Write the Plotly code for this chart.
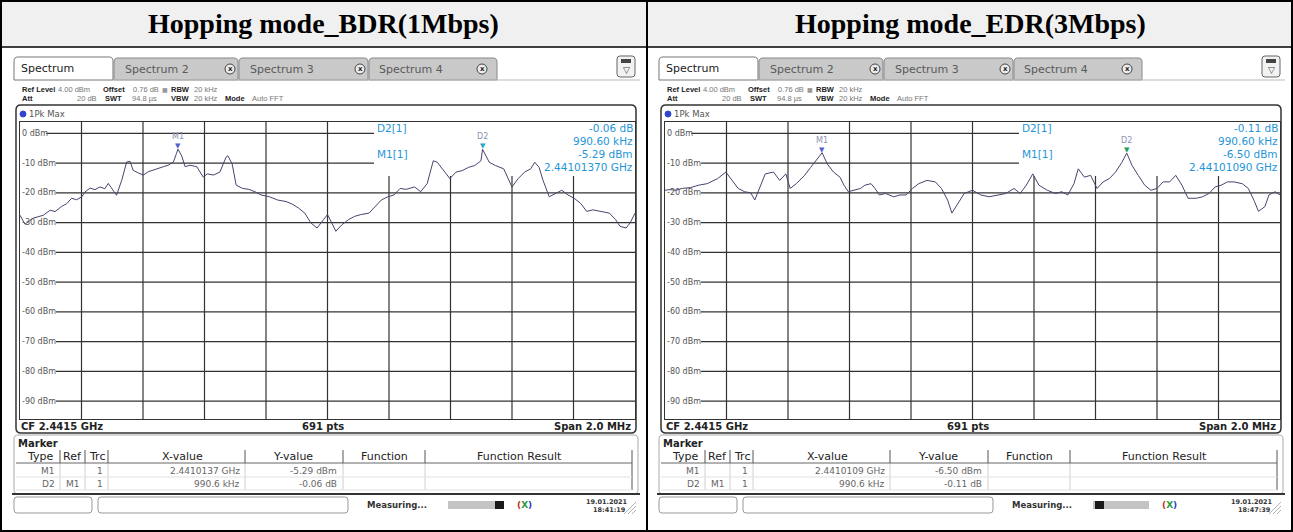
import plotly.graph_objects as go

W, H = 1293, 532

# ---------------- data ----------------
panel_titles = ["Hopping mode_BDR(1Mbps)", "Hopping mode_EDR(3Mbps)"]

# trace 1 : BDR, frequency offset from 2.4405 GHz (kHz) and level (dBm)
bdr_offset_khz = [0, 16, 43, 76, 98, 114, 136, 152, 168, 184,
                  201, 211, 228, 244, 260, 276, 287, 298, 314, 331,
                  347, 358, 368, 385, 401, 417, 434, 450, 466, 482,
                  499, 509, 513.7, 526, 537, 553, 575, 596, 609, 629,
                  650, 670, 676, 690, 703, 724, 744, 764, 784, 811,
                  838, 865, 886, 906, 926, 946, 966, 987, 1000, 1014,
                  1027, 1047, 1068, 1088, 1108, 1135, 1155, 1175, 1196, 1216,
                  1236, 1256, 1283, 1303, 1324, 1344, 1357, 1378, 1398, 1418,
                  1438, 1459, 1479, 1499, 1504.3, 1526, 1546, 1573, 1600, 1620,
                  1641, 1661, 1674, 1688, 1701, 1721, 1742, 1762, 1782, 1802,
                  1823, 1843, 1863, 1890, 1917, 1937, 1951, 1971, 1984, 2000]
bdr_level_dbm = [-27.5, -30.5, -28.5, -27.5, -25.8, -26.3, -24.5, -23.6, -21.8, -22.3,
                 -21.3, -19.7, -18.4, -18.9, -18.0, -18.6, -16.8, -18.5, -20.8, -15.7,
                 -9.6, -9.4, -12.4, -13.3, -14.0, -12.9, -12.4, -11.8, -11.2, -10.7,
                 -9.6, -6.7, -5.29, -7.6, -11.2, -10.7, -11.2, -14.7, -13.6, -14.0,
                 -13.0, -8.0, -7.5, -10.3, -17.4, -18.5, -18.8, -19.6, -20.7, -21.3,
                 -22.4, -22.9, -23.8, -25.1, -26.8, -30.1, -31.8, -29.0, -27.3, -30.1,
                 -32.9, -30.7, -29.0, -27.9, -27.3, -26.8, -24.6, -22.4, -21.3, -20.7,
                 -18.5, -18.8, -18.0, -19.6, -16.9, -9.2, -9.7, -12.5, -15.2, -13.0,
                 -12.5, -11.4, -10.8, -9.2, -5.35, -9.7, -10.8, -11.9, -18.0, -15.2,
                 -13.0, -11.9, -9.7, -11.4, -15.8, -21.3, -20.2, -19.1, -20.7, -21.8,
                 -23.5, -26.2, -25.7, -26.3, -26.8, -29.0, -31.2, -31.8, -30.1, -26.8]

# trace 2 : EDR
edr_offset_khz = [0, 16, 36, 56, 83, 110, 137, 171, 198, 218,
                  238, 259, 279, 292, 326, 353, 373, 393, 407, 427,
                  454, 474, 495, 510.9, 528, 548, 569, 582, 596, 616,
                  636, 650, 670, 683, 697, 717, 744, 764, 784, 805,
                  825, 852, 879, 899, 919, 933, 953, 973, 1000, 1027,
                  1054, 1081, 1108, 1135, 1155, 1175, 1196, 1216, 1243, 1270,
                  1290, 1310, 1330, 1344, 1364, 1384, 1405, 1425, 1445, 1465,
                  1486, 1501.5, 1519, 1539, 1560, 1580, 1600, 1620, 1641, 1661,
                  1681, 1701, 1728, 1748, 1769, 1789, 1809, 1829, 1850, 1877,
                  1897, 1917, 1930, 1951, 1964, 1984, 2000]
edr_level_dbm = [-19.1, -18.9, -19.1, -18.5, -18.2, -17.4, -16.9, -15.2, -13.0, -15.8,
                 -18.5, -19.6, -20.0, -22.4, -13.6, -13.0, -15.8, -13.6, -18.5, -16.9,
                 -14.1, -11.4, -8.6, -6.5, -10.3, -13.0, -14.7, -17.4, -19.6, -19.1,
                 -18.5, -17.4, -16.9, -18.5, -20.7, -20.2, -21.3, -20.7, -20.7, -18.5,
                 -16.9, -15.8, -16.3, -18.5, -22.4, -26.8, -23.5, -20.2, -19.1, -20.7,
                 -21.3, -20.7, -20.2, -18.5, -20.2, -17.4, -13.6, -17.4, -19.1, -20.2,
                 -19.6, -20.7, -16.9, -11.9, -14.7, -14.1, -18.5, -16.3, -15.2, -13.0,
                 -9.7, -6.61, -10.8, -14.1, -17.4, -19.1, -18.5, -16.3, -16.3, -14.1,
                 -17.4, -21.8, -21.8, -21.3, -20.2, -18.0, -17.4, -16.3, -16.3, -16.9,
                 -18.5, -22.9, -26.2, -24.6, -20.7, -19.6, -20.7]

y_tick_vals = [0, -10, -20, -30, -40, -50, -60, -70, -80, -90]
y_tick_labels = ["0 dBm", "-10 dBm", "-20 dBm", "-30 dBm", "-40 dBm",
                 "-50 dBm", "-60 dBm", "-70 dBm", "-80 dBm", "-90 dBm"]
x_grid_khz = [200, 400, 600, 800, 1000, 1200, 1400, 1600, 1800]
START_GHZ = 2.4405
SPAN_KHZ = 2000
REF_DBM, BOTTOM_DBM = 4, -96
m1_freq_ghz = [2.4410137, 2.4410109]
m1_level_dbm = [-5.29, -6.50]
d2_delta_khz = [990.6, 990.6]
d2_delta_db = [-0.06, -0.11]
dates = ["19.01.2021", "19.01.2021"]
times = ["18:41:19", "18:47:39"]

# ---------------- helpers ----------------
FONT = "DejaVu Sans"
NARROW = "Liberation Sans"
shapes, annos = [], []


def X(px):
    return px / W


def Y(py):
    return 1 - py / H


def P(x, y):
    return f"{X(x):.5f},{Y(y):.5f}"


def rrect(x0, y0, x1, y1, r=4, line="#888", lw=1, fill=None, top_only=False, layer="above"):
    if top_only:
        path = (f"M{P(x0, y1)} L{P(x0, y0 + r)} Q{P(x0, y0)} {P(x0 + r, y0)} "
                f"L{P(x1 - r, y0)} Q{P(x1, y0)} {P(x1, y0 + r)} L{P(x1, y1)} Z")
    else:
        path = (f"M{P(x0 + r, y0)} L{P(x1 - r, y0)} Q{P(x1, y0)} {P(x1, y0 + r)} "
                f"L{P(x1, y1 - r)} Q{P(x1, y1)} {P(x1 - r, y1)} L{P(x0 + r, y1)} "
                f"Q{P(x0, y1)} {P(x0, y1 - r)} L{P(x0, y0 + r)} Q{P(x0, y0)} {P(x0 + r, y0)} Z")
    shapes.append(dict(type="path", path=path, xref="paper", yref="paper",
                       line=dict(color=line, width=lw),
                       fillcolor=fill or "rgba(0,0,0,0)", layer=layer))


def rect(x0, y0, x1, y1, fill=None, line=None, lw=0, layer="above"):
    shapes.append(dict(type="rect", xref="paper", yref="paper",
                       x0=X(x0), x1=X(x1), y0=Y(y1), y1=Y(y0),
                       fillcolor=fill or "rgba(0,0,0,0)",
                       line=dict(color=line or "rgba(0,0,0,0)", width=lw), layer=layer))


def seg(x0, y0, x1, y1, color="#444", lw=1, layer="above"):
    shapes.append(dict(type="line", xref="paper", yref="paper",
                       x0=X(x0), x1=X(x1), y0=Y(y0), y1=Y(y1),
                       line=dict(color=color, width=lw), layer=layer))


def hline(x0, x1, y, color="#444", lw=1):
    seg(x0, y, x1, y, color, lw)


def vline(x, y0, y1, color="#444", lw=1):
    seg(x, y0, x, y1, color, lw)


def text(x, y, s, size=8, color="#333", anchor="left", bold=False, family=None, bg=None):
    annos.append(dict(x=X(x), y=Y(y), xref="paper", yref="paper",
                      text=f"<b>{s}</b>" if bold else s, showarrow=False,
                      xanchor=anchor, yanchor="middle",
                      font=dict(size=size, color=color, family=family or FONT),
                      bgcolor=bg, borderpad=0))


def circle(cx, cy, r, fill, line, lw=1):
    shapes.append(dict(type="circle", xref="paper", yref="paper",
                       x0=X(cx - r), x1=X(cx + r), y0=Y(cy + r), y1=Y(cy - r),
                       fillcolor=fill, line=dict(color=line, width=lw), layer="above"))


# plot-area geometry (pixels, left panel)
GX0, GX1 = 20, 635
GY0, GY1 = 121.5, 419
BOX_X0, BOX_Y1 = 374, 176            # marker-info box that hides the grid
box_xfrac = (BOX_X0 - GX0) / (GX1 - GX0)
box_yfrac = 1 - (BOX_Y1 - GY0) / (GY1 - GY0)
LABEL_X = 21                         # y label start (px)
LABEL_CHAR_PX = 4.85                 # approx. width per char of 8px labels

# ---------------- frame / titles ----------------
SEP_Y = 47
rect(2, 2, 1291, SEP_Y, fill="#f0f0f0", layer="below")
hline(0, 1293, SEP_Y, color="#000", lw=1.5)
vline(647, 0, 532, color="#000", lw=2)
rect(1, 1, 1292, 531, line="#000", lw=2)
for i, t in enumerate(panel_titles):
    cx = 323.5 if i == 0 else 970
    text(cx, 23.5, t, size=28, color="#000", anchor="center", bold=True, family="Liberation Serif")

fig = go.Figure()

traces = [(bdr_offset_khz, bdr_level_dbm), (edr_offset_khz, edr_level_dbm)]
d2_colors = ["#2aa6c8", "#16a05a"]
blue = "#1f95d8"

for i in range(2):
    dx = 0 if i == 0 else 645
    xa = "x" if i == 0 else "x2"
    ya = "y" if i == 0 else "y2"

    # tabs
    rrect(dx + 14, 57, dx + 113, 80, r=4, line="#777", fill="#ffffff", top_only=True)
    text(dx + 20, 68.5, "Spectrum", size=11, color="#222")
    tabs = [(114, 238, 124, 230, "Spectrum 2"), (239, 368, 249, 360, "Spectrum 3"),
            (369, 497, 378, 482, "Spectrum 4")]
    for (a, b, tx, cxx, lab) in tabs:
        rrect(dx + a, 58, dx + b, 80, r=4, line="#888", fill="#c9c9c9", top_only=True)
        text(dx + tx, 69, lab, size=11, color="#5a5a5a")
        circle(dx + cxx, 69, 5, "#ececec", "#444")
        text(dx + cxx, 69, "x", size=7, color="#222", anchor="center", bold=True)
    hline(dx + 113, dx + 640, 80, color="#bbb")
    rrect(dx + 617, 56, dx + 635, 77, r=3, line="#666", fill="#f2f2f2")
    rect(dx + 621, 59, dx + 631, 63, fill="#444")
    text(dx + 626, 70, "▽", size=9, color="#444", anchor="center")

    # info rows
    text(dx + 21, 89, "Ref Level", size=7.5, color="#222", bold=True, family=NARROW)
    text(dx + 57, 89, "4.00 dBm", size=7.5, color="#777", family=NARROW)
    text(dx + 102, 89, "Offset", size=7.5, color="#222", bold=True, family=NARROW)
    text(dx + 132, 89, "0.76 dB", size=7.5, color="#777", family=NARROW)
    text(dx + 161, 89, "■", size=6, color="#999")
    text(dx + 170, 89, "RBW", size=7.5, color="#222", bold=True, family=NARROW)
    text(dx + 193, 89, "20 kHz", size=7.5, color="#777", family=NARROW)
    text(dx + 21, 99, "Att", size=7.5, color="#222", bold=True, family=NARROW)
    text(dx + 98, 99, "20 dB", size=7.5, color="#777", anchor="right", family=NARROW)
    text(dx + 104, 99, "SWT", size=7.5, color="#222", bold=True, family=NARROW)
    text(dx + 131, 99, "94.8 µs", size=7.5, color="#777", family=NARROW)
    text(dx + 170, 99, "VBW", size=7.5, color="#222", bold=True, family=NARROW)
    text(dx + 193, 99, "20 kHz", size=7.5, color="#777", family=NARROW)
    text(dx + 224, 99, "Mode", size=7.5, color="#222", bold=True, family=NARROW)
    text(dx + 251, 99, "Auto FFT", size=7.5, color="#777", family=NARROW)

    # plot frame
    rrect(dx + 16, 105, dx + 636, 433, r=5, line="#333", lw=1.5)
    circle(dx + 23, 114, 3, "#3344cc", "#3344cc")
    text(dx + 28, 114, "1Pk Max", size=8.5, color="#555")

    # grid (hidden under the marker-info box; horizontal lines start after their label)
    for v in x_grid_khz:
        top = box_yfrac if v / SPAN_KHZ > box_xfrac else 1
        shapes.append(dict(type="line", xref=xa, yref=f"{ya} domain", x0=v, x1=v, y0=0, y1=top,
                           line=dict(color="#333", width=1.2), layer="below"))
    for v, lab in zip(y_tick_vals, y_tick_labels):
        right = box_xfrac if (REF_DBM - v) / (REF_DBM - BOTTOM_DBM) < 1 - box_yfrac else 1
        left = (LABEL_X + len(lab) * LABEL_CHAR_PX + 1 - GX0) / (GX1 - GX0)
        shapes.append(dict(type="line", xref=f"{xa} domain", yref=ya, x0=left, x1=right, y0=v, y1=v,
                           line=dict(color="#333", width=1.2), layer="below"))

    # trace
    off, lev = traces[i]
    fig.add_trace(go.Scatter(x=off, y=lev, mode="lines", xaxis=xa, yaxis=ya,
                             line=dict(color="#45456e", width=1),
                             hoverinfo="skip", showlegend=False))

    # y labels
    for v, lab in zip(y_tick_vals, y_tick_labels):
        annos.append(dict(x=X(dx + LABEL_X), y=v, xref="paper", yref=ya, text=lab,
                          showarrow=False, xanchor="left", yanchor="middle",
                          font=dict(size=8, color="#555", family=FONT), borderpad=0))

    # markers
    m1_off = (m1_freq_ghz[i] - START_GHZ) * 1e6
    d2_off = m1_off + d2_delta_khz[i]
    d2_lev = m1_level_dbm[i] + d2_delta_db[i]
    for (mx, my, lab, col) in [(m1_off, m1_level_dbm[i], "M1", "#5560d0"),
                               (d2_off, d2_lev, "D2", d2_colors[i])]:
        annos.append(dict(x=mx, y=my, xref=xa, yref=ya, text="▼", showarrow=False,
                          xanchor="center", yanchor="bottom", yshift=-3,
                          font=dict(size=7, color=col, family=FONT)))
        annos.append(dict(x=mx, y=my, xref=xa, yref=ya, text=lab, showarrow=False,
                          xanchor="center", yanchor="bottom", yshift=6,
                          font=dict(size=8, color="#8a92b0", family=FONT)))

    # marker info (blue)
    text(dx + 376, 128, "D2[1]", size=10.5, color=blue)
    text(dx + 376, 154, "M1[1]", size=10.5, color=blue)
    text(dx + 634, 128, f"{d2_delta_db[i]:.2f} dB", size=10.5, color=blue, anchor="right")
    text(dx + 634, 141, f"{d2_delta_khz[i]:.2f} kHz", size=10.5, color=blue, anchor="right")
    text(dx + 634, 154, f"{m1_level_dbm[i]:.2f} dBm", size=10.5, color=blue, anchor="right")
    text(dx + 634, 167, f"{m1_freq_ghz[i]:.8f} GHz", size=10.5, color=blue, anchor="right")

    # bottom row
    text(dx + 20, 426, "CF 2.4415 GHz", size=10, color="#222", bold=True)
    text(dx + 323, 426, "691 pts", size=10, color="#222", anchor="center", bold=True)
    text(dx + 632, 426, "Span 2.0 MHz", size=10, color="#222", anchor="right", bold=True)

    # marker table
    rrect(dx + 14, 435, dx + 638, 494, r=4, line="#aaa")
    text(dx + 17, 443, "Marker", size=10, color="#222", bold=True)
    seps = [60, 85, 108, 245, 343, 425]
    for s in seps:
        vline(dx + s, 450, 463, color="#555")
        vline(dx + s, 463, 490, color="#cfcfcf")
    vline(dx + 632, 450, 490, color="#555")
    hline(dx + 16, dx + 632, 463, color="#666")
    hline(dx + 16, dx + 632, 477, color="#e2e2e2")
    hline(dx + 16, dx + 632, 490, color="#e2e2e2")
    heads = [(40, "Type"), (72.5, "Ref"), (96.5, "Trc"), (182, "X-value"),
             (293, "Y-value"), (384, "Function"), (519, "Function Result")]
    for hx, hs in heads:
        text(dx + hx, 456, hs, size=11, color="#222", anchor="center")
    m1_x = f"{m1_freq_ghz[i]:.7f} GHz"
    rows = [(470.5, "M1", "", "1", m1_x, f"{m1_level_dbm[i]:.2f} dBm"),
            (483.5, "D2", "M1", "1", f"{d2_delta_khz[i]:.1f} kHz", f"{d2_delta_db[i]:.2f} dB")]
    for (ry, ty, rf, tr, xv, yv) in rows:
        text(dx + 56, ry, ty, size=9, color="#666", anchor="right")
        text(dx + 81, ry, rf, size=9, color="#666", anchor="right")
        text(dx + 104, ry, tr, size=9, color="#666", anchor="right")
        text(dx + 241, ry, xv, size=9, color="#666", anchor="right")
        text(dx + 338, ry, yv, size=9, color="#666", anchor="right")
    hline(dx + 12, dx + 640, 494, color="#333", lw=2)

    # status bar
    rrect(dx + 14, 497, dx + 92, 513, r=3, line="#999")
    rrect(dx + 98, 497, dx + 348, 513, r=3, line="#999")
    text(dx + 397, 505, "Measuring...", size=8.5, color="#333", anchor="center", bold=True)
    rect(dx + 448, 501, dx + 504, 509, fill="#c4c4c4")
    if i == 0:
        rect(dx + 495, 501, dx + 504, 509, fill="#1a1a1a")
    else:
        rect(dx + 450, 501, dx + 459, 509, fill="#1a1a1a")
    text(dx + 524, 505,
         "<span style='color:#c03030'>(</span><span style='color:#2a9a3a'>X</span>"
         "<span style='color:#3040c0'>)</span>", size=9, color="#333", anchor="center", bold=True)
    text(dx + 607, 502, dates[i], size=6.5, color="#333", anchor="center", bold=True)
    text(dx + 609, 510, times[i], size=6.5, color="#333", anchor="center", bold=True)
    seg(dx + 636, 502, dx + 624, 514, color="#b0b0b0")
    seg(dx + 636, 506, dx + 628, 514, color="#b0b0b0")
    seg(dx + 636, 510, dx + 632, 514, color="#b0b0b0")

# axes
axis_common = dict(showline=True, mirror=True, linecolor="#333", linewidth=1,
                   showgrid=False, zeroline=False,
                   showticklabels=False, ticks="", fixedrange=True)
y0d, y1d = Y(GY1), Y(GY0)
fig.update_layout(
    width=W, height=H, margin=dict(l=0, r=0, t=0, b=0),
    paper_bgcolor="white", plot_bgcolor="rgba(0,0,0,0)",
    font=dict(family=FONT),
    xaxis=dict(domain=[X(GX0), X(GX1)], range=[0, SPAN_KHZ], anchor="y", **axis_common),
    yaxis=dict(domain=[y0d, y1d], range=[BOTTOM_DBM, REF_DBM], anchor="x", **axis_common),
    xaxis2=dict(domain=[X(GX0 + 645), X(GX1 + 645)], range=[0, SPAN_KHZ], anchor="y2", **axis_common),
    yaxis2=dict(domain=[y0d, y1d], range=[BOTTOM_DBM, REF_DBM], anchor="x2", **axis_common),
    shapes=shapes, annotations=annos, showlegend=False,
)

fig.write_html("out.html", config={"displayModeBar": False},
               post_script="document.body.style.margin='0px';document.body.style.overflow='hidden';")
